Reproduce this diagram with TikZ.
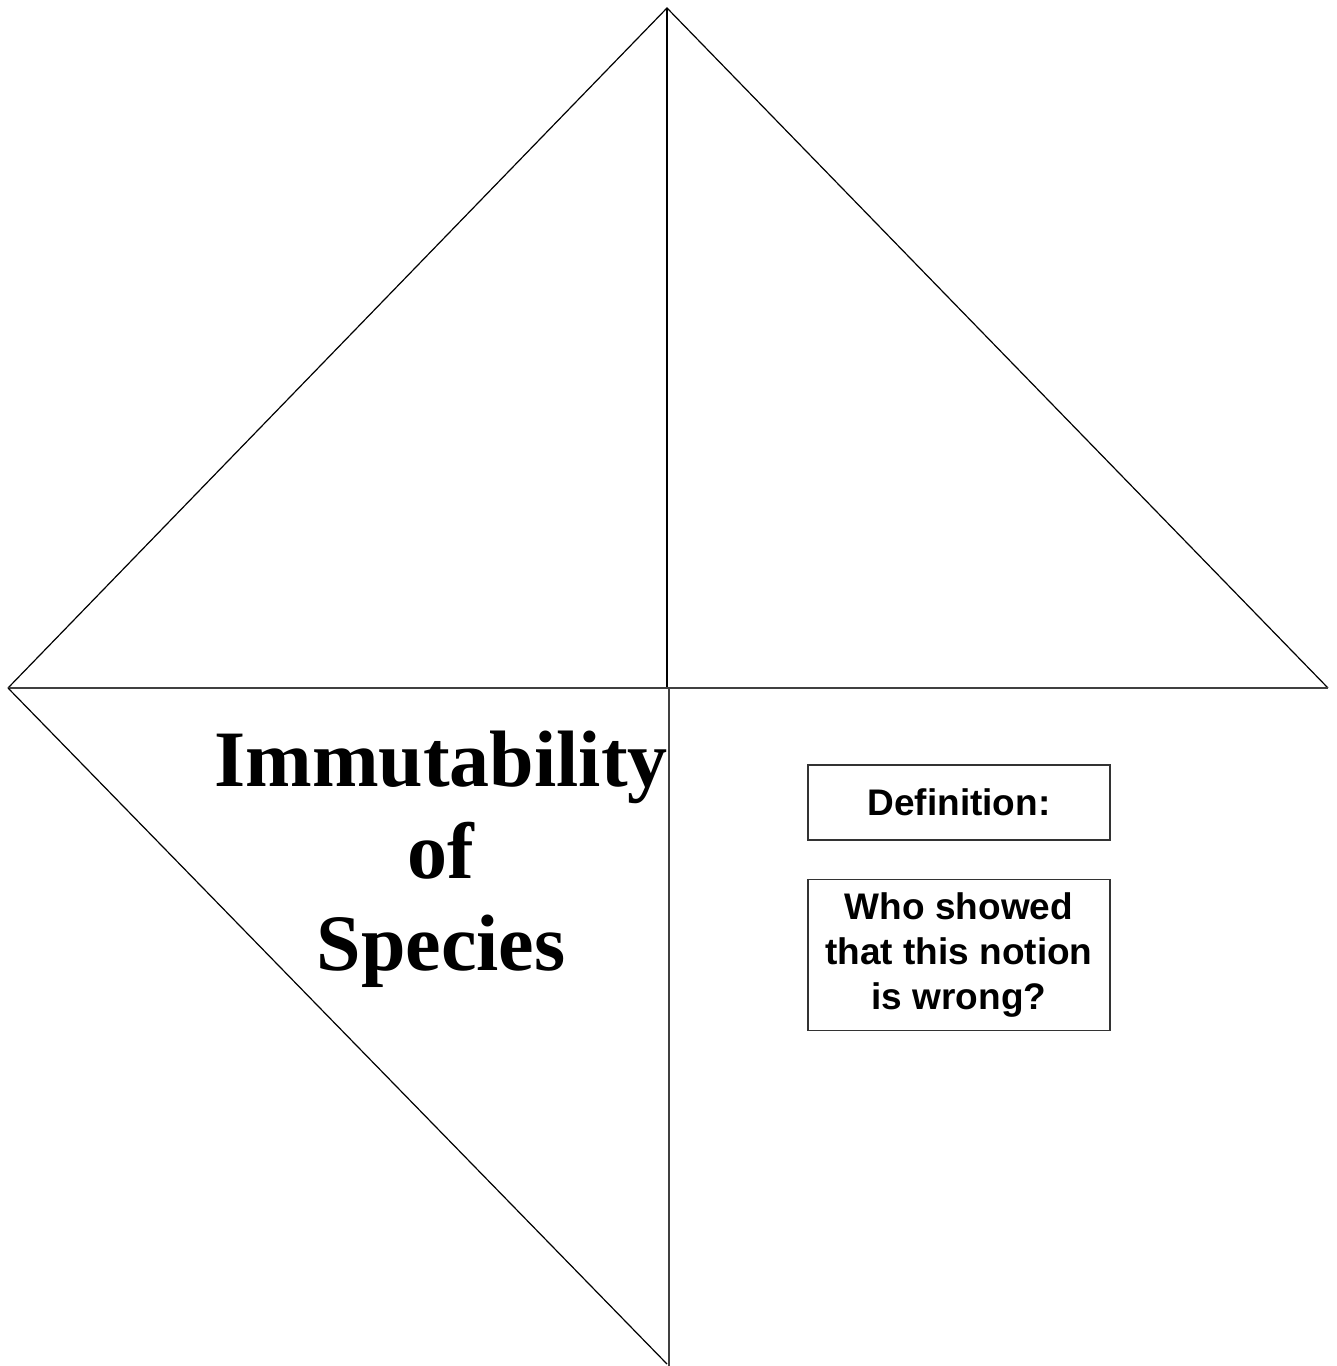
\documentclass[tikz,border=0pt]{standalone}
\usepackage{fontspec}
\setmainfont{Liberation Serif}
\newfontfamily\arialfont{Liberation Sans}
\begin{document}
\begin{tikzpicture}[x=0.5pt,y=-0.5pt,
  edge/.style={draw=black,line width=0.6pt},
  softedge/.style={draw=black!75,line width=0.7pt},
  infobox/.style={draw=black!80,line width=0.6pt,rectangle,minimum width=151pt,inner sep=0pt,align=center,
    font=\arialfont\bfseries\fontsize{18.5}{22.5}\selectfont},
  titletext/.style={align=center,inner sep=0pt,font=\bfseries\fontsize{40}{46}\selectfont}]
\useasboundingbox (0,0) rectangle (1337,1366);
\coordinate (apex) at (667,8);
\coordinate (left) at (8,688);
\coordinate (right) at (1328,688);
\coordinate (mid) at (667,688);
\coordinate (midl) at (669,689);
\coordinate (bottom) at (667,1364);
\coordinate (bottomv) at (669,1366);
\draw[edge] (left) -- (apex) -- (right);
\draw[edge] (apex) -- (mid);
\draw[softedge] (left) -- (mid);
\draw[softedge] (mid) -- (right);
\draw[softedge] (midl) -- (bottomv);
\draw[edge] (left) -- (bottom);
\node[titletext] (title) at (441,859) {Immutability\\of\\Species};
\node[infobox,minimum height=37.5pt] (def) at (959,802.5) {Definition:};
\node[infobox,minimum height=75.5pt] (who) at (959,955) {Who showed\\that this notion\\is wrong?};
\end{tikzpicture}
\end{document}
